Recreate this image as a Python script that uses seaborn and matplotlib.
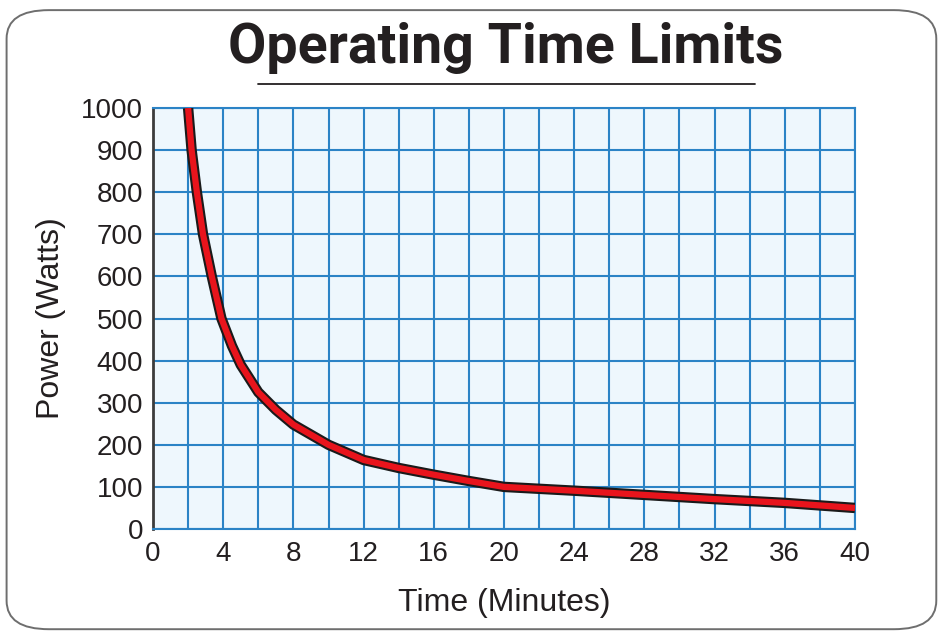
import numpy as np
import pandas as pd
import seaborn as sns
from matplotlib import pyplot as plt
from matplotlib import patheffects as pe
from matplotlib.patches import FancyBboxPatch
from matplotlib.ticker import MultipleLocator

# values
minutes = [2.0, 2.2, 2.5, 2.85, 3.35, 3.9, 4.5, 5.0, 6.0, 7.0, 8.0, 10.0, 12.0, 14.0,
           16.0, 18.0, 20.0, 24.0, 28.0, 32.0, 36.0, 40.0]
watts = [1000, 900, 800, 700, 600, 500, 435, 390, 325, 283, 248, 200, 164, 145,
         129, 114, 100, 91, 81, 71, 62, 50]
x_ticks = [0, 4, 8, 12, 16, 20, 24, 28, 32, 36, 40]
y_ticks = [0, 100, 200, 300, 400, 500, 600, 700, 800, 900, 1000]

GRID_BLUE = '#2b83c6'
BG_BLUE = '#eef7fd'
TEXT = '#231f20'


def plot_chart(df, out_file):
    sns.set_style('white')
    plt.rcParams['font.family'] = ['Liberation Sans', 'DejaVu Sans']

    fig = plt.figure(figsize=(9.41, 6.33), dpi=100)
    border = FancyBboxPatch((0.007, 0.006), 0.988, 0.978,
                            boxstyle='round,pad=0,rounding_size=0.045',
                            transform=fig.transFigure, facecolor='none',
                            edgecolor='#6e6e6e', linewidth=1.4, zorder=0)
    fig.patches.append(border)

    ax = fig.add_axes([0.1626, 0.1643, 0.746, 0.665])
    sns.lineplot(data=df, x='minutes', y='watts', ax=ax, color='#e8141c',
                 linewidth=4.5, zorder=5)
    line = ax.lines[0]
    line.set_path_effects([pe.Stroke(linewidth=7.5, foreground='#1a1a1a'), pe.Normal()])
    line.set_solid_capstyle('butt')

    ax.set_facecolor(BG_BLUE)
    ax.set_xlim(0, 40)
    ax.set_ylim(0, 1000)
    ax.set_xticks(x_ticks)
    ax.set_yticks(y_ticks)
    ax.xaxis.set_minor_locator(MultipleLocator(2))
    ax.grid(True, which='both', color=GRID_BLUE, linewidth=1.5)
    ax.set_axisbelow(True)
    ax.tick_params(length=0, labelsize=20, labelcolor=TEXT)
    ax.tick_params(axis='x', pad=9)
    ax.tick_params(axis='y', pad=7)

    for side in ['top', 'right', 'bottom']:
        ax.spines[side].set_visible(True)
        ax.spines[side].set_color(GRID_BLUE)
        ax.spines[side].set_linewidth(1.5)
    ax.spines['left'].set_visible(True)
    ax.spines['left'].set_color('#3c3c3c')
    ax.spines['left'].set_linewidth(2)

    ax.set_xlabel('Time (Minutes)', fontsize=23, color=TEXT, labelpad=15)
    ax.set_ylabel('Power (Watts)', fontsize=23, color=TEXT, labelpad=11)

    fig.text(0.537, 0.901, 'Operating Time Limits', ha='center', va='baseline',
             fontsize=40, fontweight='bold', color=TEXT,
             family=['Roboto', 'DejaVu Sans'])
    fig.add_artist(plt.Line2D([0.274, 0.802], [0.868, 0.868], color=TEXT,
                              linewidth=1.3, transform=fig.transFigure))

    plt.savefig(out_file, dpi=100)
    plt.close()


def main():
    df = pd.DataFrame({'minutes': minutes, 'watts': watts})
    plot_chart(df, 'out.png')


if __name__ == "__main__":
    main()
